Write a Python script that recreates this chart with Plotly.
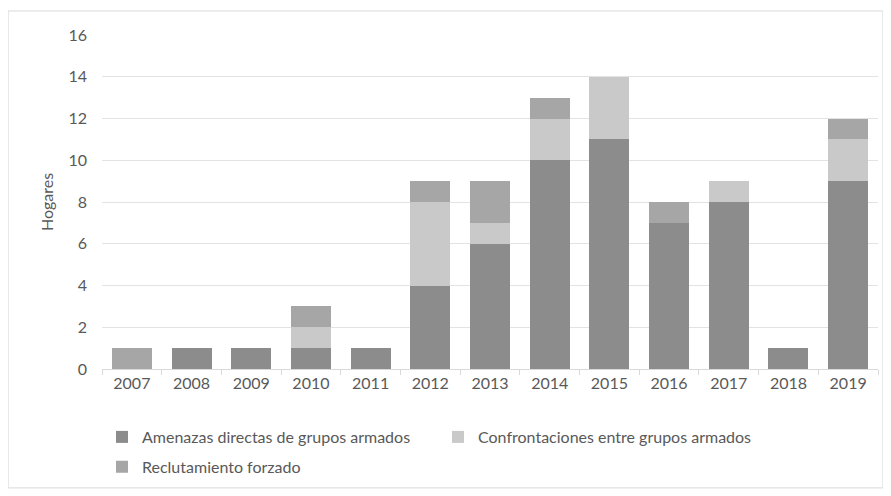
import plotly.graph_objects as go

# Datos (hogares por año)
years = ["2007", "2008", "2009", "2010", "2011", "2012", "2013",
         "2014", "2015", "2016", "2017", "2018", "2019"]
amenazas = [0, 1, 1, 1, 1, 4, 6, 10, 11, 7, 8, 1, 9]
confrontaciones = [0, 0, 0, 1, 0, 4, 1, 2, 3, 0, 1, 0, 2]
reclutamiento = [1, 0, 0, 1, 0, 1, 2, 1, 0, 1, 0, 0, 1]

names = ["Amenazas directas de grupos armados",
         "Confrontaciones entre grupos armados",
         "Reclutamiento forzado"]
colors = ["#8c8c8c", "#c9c9c9", "#a6a6a6"]
legends = ["legend", "legend", "legend2"]  # third item sits on its own row

font_txt = "Lato, Open Sans, sans-serif"
grey_txt = "#595959"

fig = go.Figure()
for name, vals, col, lg in zip(names, [amenazas, confrontaciones, reclutamiento], colors, legends):
    fig.add_trace(go.Bar(x=years, y=vals, name=name, marker_color=col,
                         marker_line_width=0, legend=lg))

leg_common = dict(orientation="h", x=0.0, xanchor="left", yanchor="middle",
                  entrywidth=291, entrywidthmode="pixels",
                  font=dict(size=16, color=grey_txt), traceorder="normal",
                  itemwidth=30)

# the page has an 8px body margin, so the figure is 8px smaller each way
fig.update_layout(
    barmode="stack",
    bargap=0.33,
    width=883, height=488,
    paper_bgcolor="white", plot_bgcolor="white",
    margin=dict(l=94, r=13, t=27, b=127),
    font=dict(family=font_txt, size=16, color=grey_txt),
    legend=dict(y=-0.2036, **leg_common),
    legend2=dict(y=-0.293, **leg_common),
    shapes=[dict(type="rect", xref="paper", yref="paper",
                 x0=-0.121, x1=1.0064, y0=-0.356, y1=1.072,
                 line=dict(color="#d9d9d9", width=1), layer="below")],
)

fig.update_yaxes(range=[0, 16], dtick=2, showgrid=True, gridcolor="#e3e3e3",
                 zeroline=False, showline=False, ticklabelstandoff=14,
                 title=dict(text="Hogares", standoff=10, font=dict(size=16)))
fig.update_xaxes(showline=True, linecolor="#d9d9d9", ticks="outside",
                 tickson="boundaries", ticklen=5, tickcolor="#d9d9d9",
                 tickfont=dict(size=16))

fig.write_html("out.html")
